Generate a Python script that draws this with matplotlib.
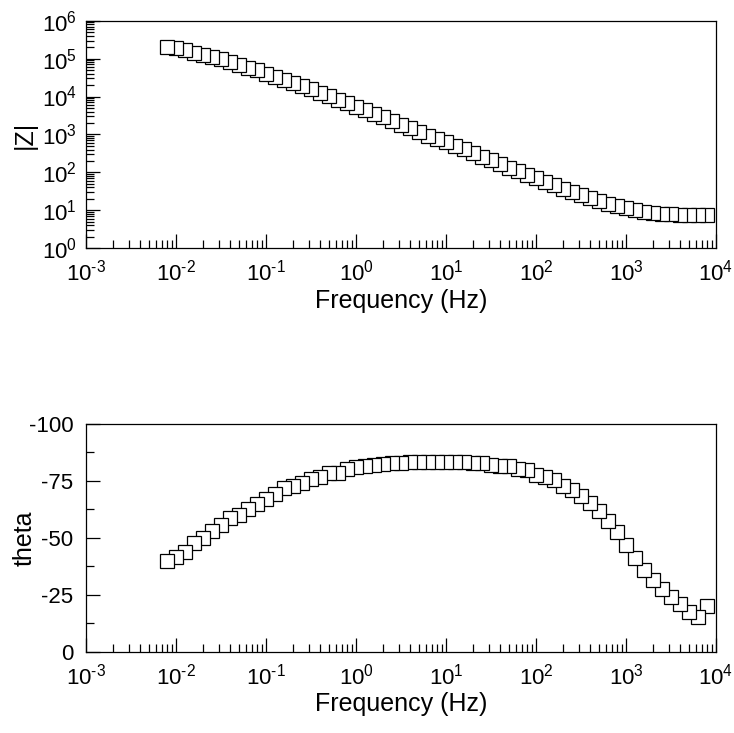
import math

import matplotlib
matplotlib.use("Agg")
import matplotlib.pyplot as plt
from matplotlib.ticker import LogLocator, FixedLocator, MultipleLocator, FuncFormatter, NullFormatter

plt.rcParams["font.family"] = ["Liberation Sans", "DejaVu Sans"]
plt.rcParams["mathtext.fontset"] = "custom"
plt.rcParams["mathtext.rm"] = "Liberation Sans"
plt.rcParams["mathtext.it"] = "Liberation Sans:italic"
plt.rcParams["axes.unicode_minus"] = False

# ---------------------------------------------------------------- data
# frequency sweep, low to high (Hz)
freq = [0.007943, 0.01, 0.01259, 0.01585, 0.01995, 0.02512, 0.03162, 0.03981, 0.05012, 0.0631,
        0.07943, 0.1, 0.1259, 0.1585, 0.1995, 0.2512, 0.3162, 0.3981, 0.5012, 0.631,
        0.7943, 1.0, 1.259, 1.585, 1.995, 2.512, 3.162, 3.981, 5.012, 6.31,
        7.943, 10.0, 12.59, 15.85, 19.95, 25.12, 31.62, 39.81, 50.12, 63.1,
        79.43, 100.0, 125.9, 158.5, 199.5, 251.2, 316.2, 398.1, 501.2, 631.0,
        794.3, 1000.0, 1259.0, 1585.0, 1995.0, 2512.0, 3162.0, 3981.0, 5012.0, 6310.0,
        7943.0]

z_mod = [206500, 190100, 168700, 143200, 124500, 110200, 95700, 79800, 67800, 56500,
         49100, 39300, 33400, 27300, 22750, 18970, 15490, 12390, 10120, 8090,
         6610, 5300, 4325, 3460, 2825, 2265, 1811, 1449, 1161, 929,
         759, 619, 495, 405, 324, 259, 208, 166, 133, 106,
         85.1, 69.5, 55.7, 45.5, 36.4, 29.8, 24.8, 20.7, 17.6, 15.0,
         13.0, 11.3, 10.2, 9.20, 8.65, 8.15, 7.82, 7.67, 7.52, 7.52,
         7.52]

theta = [-40.0, -41.5, -43.9, -47.6, -50.1, -53.0, -55.7, -58.8, -60.0, -62.8,
         -64.8, -67.0, -69.4, -71.8, -72.8, -74.3, -75.7, -76.9, -78.3, -78.7,
         -80.2, -81.0, -81.6, -82.0, -82.4, -82.7, -82.9, -83.2, -83.3, -83.4,
         -83.4, -83.4, -83.3, -83.2, -83.0, -82.7, -82.2, -81.7, -81.5, -80.2,
         -79.8, -77.5, -76.9, -75.4, -72.8, -71.0, -68.5, -65.5, -62.0, -57.5,
         -52.5, -47.0, -41.0, -36.0, -31.5, -27.5, -24.0, -21.0, -17.5, -15.1,
         -20.2]

theta_ticks = [0, -25, -50, -75, -100]

# ---------------------------------------------------------------- figure
fig = plt.figure(figsize=(7.34, 7.33), dpi=100)
ax1 = fig.add_axes([0.1172, 0.6613, 0.8583, 0.3105])
ax2 = fig.add_axes([0.1172, 0.1109, 0.8583, 0.3106])

FS = 16
LFS = 18
marker_kw = dict(ls="none", marker="s", ms=9.6, mfc="white", mec="black", mew=0.9)


def pow10(v, pos):
    e = int(round(math.log10(v)))
    return r"$\mathregular{10^{\text{%d}}}$" % e


def style(ax, ypad):
    ax.set_xscale("log")
    ax.set_xlim(1e-3, 1e4)
    ax.xaxis.set_major_locator(LogLocator(base=10, numticks=20))
    ax.xaxis.set_minor_locator(LogLocator(base=10, subs=range(2, 10), numticks=20))
    ax.xaxis.set_major_formatter(FuncFormatter(pow10))
    ax.xaxis.set_minor_formatter(NullFormatter())
    ax.tick_params(which="both", direction="in", top=False, right=False,
                   labelsize=FS, width=0.9)
    ax.tick_params(which="major", length=10)
    ax.tick_params(which="minor", length=6)
    ax.tick_params(axis="x", pad=8.5)
    ax.tick_params(axis="y", pad=ypad)
    for s in ax.spines.values():
        s.set_linewidth(0.9)
    ax.set_xlabel("Frequency (Hz)", fontsize=LFS, labelpad=2)


# drawn from high to low frequency so low-frequency markers sit on top
ax1.plot(freq[::-1], z_mod[::-1], **marker_kw)
style(ax1, 6.5)
ax1.set_yscale("log")
ax1.set_ylim(1, 1e6)
ax1.yaxis.set_major_locator(LogLocator(base=10, numticks=20))
ax1.yaxis.set_minor_locator(LogLocator(base=10, subs=range(2, 10), numticks=20))
ax1.yaxis.set_major_formatter(FuncFormatter(pow10))
ax1.yaxis.set_minor_formatter(NullFormatter())
ax1.set_ylabel("|Z|", fontsize=LFS)
ax1.yaxis.set_label_coords(-0.078, 0.5)

ax2.plot(freq[::-1], theta[::-1], **marker_kw)
style(ax2, 9)
ax2.set_ylim(0, -100)
ax2.yaxis.set_major_locator(FixedLocator(theta_ticks))
ax2.yaxis.set_minor_locator(MultipleLocator(12.5))
ax2.set_yticklabels([str(t) for t in theta_ticks])
ax2.set_ylabel("theta", fontsize=LFS)
ax2.yaxis.set_label_coords(-0.078, 0.5)

fig.savefig("out.png", dpi=100)
